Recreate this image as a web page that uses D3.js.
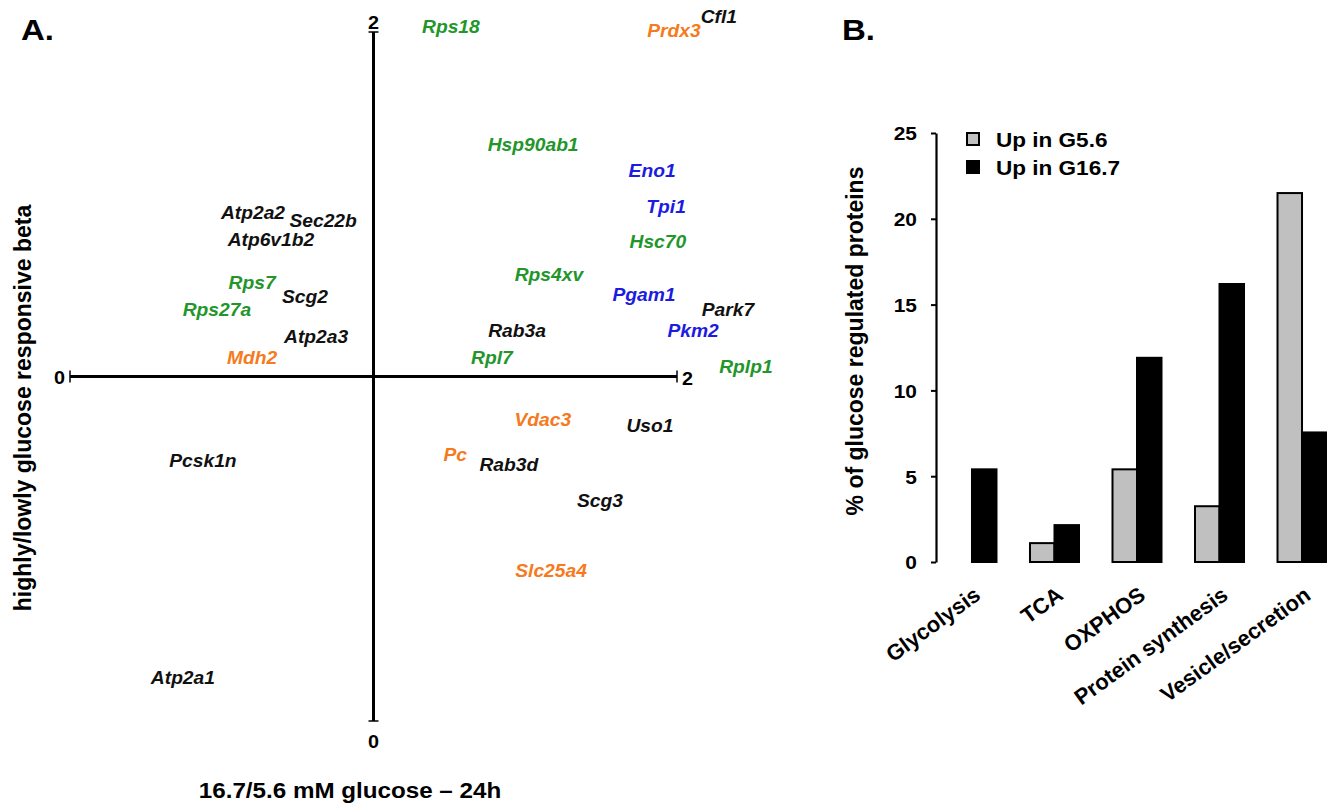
<!DOCTYPE html>
<html>
<head>
<meta charset="utf-8">
<script src="https://cdn.jsdelivr.net/npm/d3@7"></script>
<style>
  html, body { margin: 0; padding: 0; background: #fff; }
  svg { display: block; }
  text { font-family: "Liberation Sans", Arial, sans-serif; font-weight: bold; }
</style>
</head>
<body>
<svg id="chart" width="1327" height="803"></svg>
<script>
// ---------- Panel A data ----------
const genes = ["Rps18","Prdx3","Cfl1","Hsp90ab1","Eno1","Tpi1","Hsc70","Rps4xv","Pgam1","Park7","Pkm2","Rab3a","Rpl7","Rplp1",
  "Atp2a2","Sec22b","Atp6v1b2","Rps7","Scg2","Rps27a","Atp2a3","Mdh2","Pcsk1n","Atp2a1",
  "Vdac3","Uso1","Pc","Rab3d","Scg3","Slc25a4"];
const geneX = [1.255,1.990,2.138,1.526,1.918,1.964,1.937,1.578,1.891,2.168,2.053,1.473,1.390,2.227,
  0.603,0.834,0.662,0.600,0.774,0.484,0.811,0.600,0.438,0.372,
  1.558,1.911,1.269,1.446,1.746,1.585];
const geneY = [2.015,2.003,2.044,1.672,1.597,1.492,1.390,1.295,1.237,1.193,1.132,1.132,1.054,1.028,
  1.475,1.451,1.396,1.271,1.231,1.193,1.115,1.054,0.755,0.125,
  0.874,0.856,0.772,0.743,0.639,0.435];
const geneGroup = ["protein","energy","other","protein","glycolysis","glycolysis","protein","protein","glycolysis","other","glycolysis","other","protein","protein",
  "other","other","other","protein","other","protein","other","energy","other","other",
  "energy","other","energy","other","other","energy"];
const groupNames = ["protein","energy","glycolysis","other"];
const groupColors = ["#22962a","#f57a20","#1c1ce0","#111111"];
const axisTicksA = ["0","2"];
const xTitleA = "16.7/5.6 mM glucose \u2013 24h";
const yTitleA = "highly/lowly glucose responsive beta";

// ---------- Panel B data ----------
const categories = ["Glycolysis","TCA","OXPHOS","Protein synthesis","Vesicle/secretion"];
const seriesNames = ["Up in G5.6","Up in G16.7"];
const upG56 = [0, 1.1, 5.4, 3.25, 21.5];
const upG167 = [5.4, 2.15, 11.9, 16.2, 7.55];
const seriesColors = ["#c0c0c0","#000000"];
const yTicksB = [0,5,10,15,20,25];
const yTitleB = "% of glucose regulated proteins";

const SX = 1.1; // horizontal stretch of glyphs seen in the reference
const svg = d3.select("#chart");

function stretchedText(g, x, y, str, size, opts = {}) {
  return g.append("text")
    .attr("transform", `translate(${x},${y}) scale(${SX},1)`)
    .attr("text-anchor", opts.anchor || "start")
    .attr("dy", opts.dy || null)
    .style("font-size", size + "px")
    .style("font-style", opts.italic ? "italic" : null)
    .attr("fill", opts.fill || "#000")
    .text(str);
}

// ================= Panel A =================
const A = svg.append("g");
const xA = d3.scaleLinear().domain([0, 2]).range([70, 677]);
const yA = d3.scaleLinear().domain([0, 2]).range([721, 32]);
const colorA = d3.scaleOrdinal().domain(groupNames).range(groupColors);

stretchedText(A, 21, 40, "A.", 30);

// axes lines
A.append("line").attr("x1", xA(0)).attr("x2", xA(2)).attr("y1", yA(1)).attr("y2", yA(1))
  .attr("stroke", "#000").attr("stroke-width", 3);
A.append("line").attr("x1", xA(1)).attr("x2", xA(1)).attr("y1", yA(0)).attr("y2", yA(2))
  .attr("stroke", "#000").attr("stroke-width", 3);
// end ticks
[0, 2].forEach(v => {
  A.append("line").attr("x1", xA(v)).attr("x2", xA(v)).attr("y1", yA(1) - 6).attr("y2", yA(1) + 6)
    .attr("stroke", "#000").attr("stroke-width", 1.5);
  A.append("line").attr("x1", xA(1) - 5).attr("x2", xA(1) + 5).attr("y1", yA(v)).attr("y2", yA(v))
    .attr("stroke", "#000").attr("stroke-width", 1.5);
});
// tick labels
stretchedText(A, xA(0) - 5, yA(1) + 7, axisTicksA[0], 18, { anchor: "end" });
stretchedText(A, xA(2) + 5, yA(1) + 8, axisTicksA[1], 18, { anchor: "start" });
stretchedText(A, xA(1), yA(2) - 3, axisTicksA[1], 18, { anchor: "middle" });
stretchedText(A, xA(1), yA(0) + 27, axisTicksA[0], 18, { anchor: "middle" });

// axis titles
stretchedText(A, 350, 798, xTitleA, 22, { anchor: "middle" });
A.append("text")
  .attr("transform", "translate(31,408) rotate(-90)")
  .attr("text-anchor", "middle")
  .style("font-size", "23px")
  .text(yTitleA);

// gene labels
genes.forEach((g, i) => {
  stretchedText(A, xA(geneX[i]), yA(geneY[i]), g, 17.5,
    { anchor: "middle", dy: "0.35em", italic: true, fill: colorA(geneGroup[i]) });
});

// ================= Panel B =================
const B = svg.append("g");
stretchedText(B, 842, 40, "B.", 30);

const yB = d3.scaleLinear().domain([0, 25]).range([562, 133]);
const x0 = d3.scaleBand().domain(categories).range([937, 1337]).paddingInner(0.406).paddingOuter(0.127);
const x1 = d3.scaleBand().domain(seriesNames).range([0, x0.bandwidth()]);

// y axis
const yAxis = B.append("g").attr("transform", "translate(936,0)")
  .call(d3.axisLeft(yB).tickValues(yTicksB).tickSize(5).tickSizeOuter(0));
yAxis.select(".domain").attr("stroke-width", 2.2);
yAxis.selectAll(".tick line").attr("stroke-width", 2);
yAxis.selectAll(".tick text")
  .attr("x", null).attr("dy", "0.36em")
  .attr("transform", `translate(-19,0) scale(${SX},1)`)
  .style("font-size", "19px").style("font-family", "Liberation Sans, Arial, sans-serif")
  .style("font-weight", "bold").attr("fill", "#000");

B.append("text")
  .attr("transform", "translate(863,341) rotate(-90)")
  .attr("text-anchor", "middle")
  .style("font-size", "23px")
  .text(yTitleB);

// bars
const rows = categories.map((c, i) => ({ cat: c, vals: [upG56[i], upG167[i]] }));
const grp = B.selectAll(".grp").data(rows).join("g")
  .attr("transform", d => `translate(${x0(d.cat)},0)`);
grp.selectAll("rect")
  .data(d => d.vals.map((v, j) => ({ s: seriesNames[j], v, j })).filter(e => e.v > 0))
  .join("rect")
  .attr("x", e => x1(e.s))
  .attr("width", x1.bandwidth())
  .attr("y", e => yB(e.v))
  .attr("height", e => yB(0) - yB(e.v))
  .attr("fill", e => seriesColors[e.j])
  .attr("stroke", "#000")
  .attr("stroke-width", 2);

// category labels
categories.forEach(c => {
  const cx = x0(c) + x0.bandwidth() / 2 + 10;
  B.append("text")
    .attr("transform", `translate(${cx},598) rotate(-36)`)
    .attr("text-anchor", "end")
    .style("font-size", "22px")
    .text(c);
});

// legend
seriesNames.forEach((s, i) => {
  const ly = 139 + i * 28;
  B.append("rect").attr("x", 967).attr("y", ly - 6).attr("width", 12).attr("height", 12)
    .attr("fill", seriesColors[i]).attr("stroke", "#000").attr("stroke-width", 2);
  stretchedText(B, 996, ly + 7.5, s, 20.5, { anchor: "start" });
});
</script>
</body>
</html>
